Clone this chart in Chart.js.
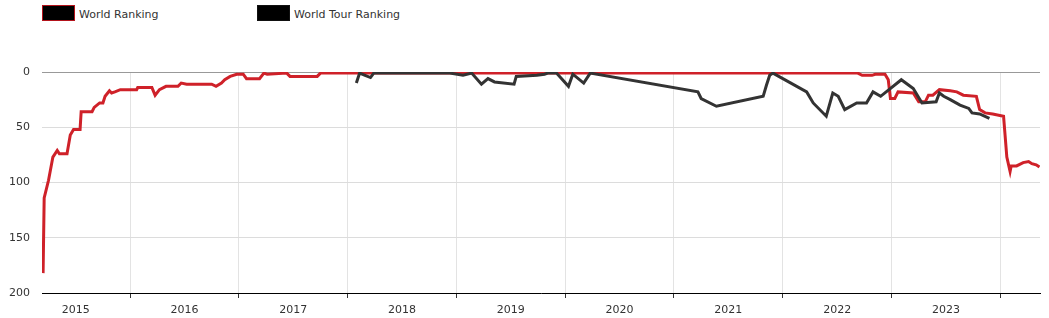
<!DOCTYPE html>
<html>
<head>
<meta charset="utf-8">
<script src="https://cdn.jsdelivr.net/npm/chart.js@4.4.1/dist/chart.umd.min.js"></script>
<style>
  body { margin: 0; background: #fff; font-family: "DejaVu Sans", Verdana, sans-serif; }
  #wrap { position: relative; width: 1049px; height: 318px; }
  #myLine { position: absolute; left: 0; top: 0; }
  .legend-item { position: absolute; top: 5px; height: 17px; font-size: 11px; color: #333; line-height: 17px; }
  .legend-box { position: absolute; left: 0; top: 0; width: 31px; height: 14px; background: #000; }
  .legend-item span { position: absolute; left: 37px; top: 1px; white-space: nowrap; }
</style>
</head>
<body>
<div id="wrap">
  <div class="legend-item" style="left:42px"><div class="legend-box" style="border:1px solid #b3131b"></div><span>World Ranking</span></div>
  <div class="legend-item" style="left:257px"><div class="legend-box" style="border:1px solid #111"></div><span>World Tour Ranking</span></div>
  <canvas id="myLine" width="1049" height="318"></canvas>
</div>
<script>
const Chart = window.Chart;

// dates as decimal years
const rankDates = [2015.20, 2015.21, 2015.25, 2015.29, 2015.33, 2015.35, 2015.42, 2015.45, 2015.48, 2015.54,
  2015.55, 2015.65, 2015.67, 2015.72, 2015.75, 2015.77, 2015.81, 2015.83, 2015.86, 2015.91,
  2016.06, 2016.07, 2016.20, 2016.23, 2016.27, 2016.33, 2016.41, 2016.44, 2016.47, 2016.52,
  2016.75, 2016.79, 2016.84, 2016.87, 2016.92, 2016.98, 2017.04, 2017.07, 2017.19, 2017.23,
  2017.26, 2017.44, 2017.47, 2017.72, 2017.75, 2022.69, 2022.73, 2022.82, 2022.85, 2022.94,
  2022.97, 2022.99, 2023.03, 2023.06, 2023.20, 2023.25, 2023.31, 2023.34, 2023.38, 2023.44,
  2023.54, 2023.60, 2023.66, 2023.78, 2023.81, 2023.86, 2023.93, 2024.03, 2024.06, 2024.09,
  2024.10, 2024.15, 2024.21, 2024.26, 2024.29, 2024.33, 2024.36];
const rankValues = [182, 114, 98, 77, 71, 74, 74, 57, 52, 52,
  36, 36, 32, 28, 28, 22, 17, 19, 18, 16,
  16, 14, 14, 21, 16, 13, 13, 13, 10, 11,
  11, 13, 10, 7, 4, 2, 2, 6, 6, 1,
  2, 1, 4, 4, 1, 1, 3, 3, 2, 2,
  7, 24, 24, 18, 19, 27, 27, 21, 21, 16,
  17, 18, 21, 22, 34, 37, 38, 40, 77, 90,
  85, 85, 82, 81, 83, 84, 86];

const tourDates = [2018.08, 2018.11, 2018.16, 2018.21, 2018.24, 2018.94, 2019.06, 2019.14, 2019.23, 2019.29,
  2019.35, 2019.53, 2019.55, 2019.74, 2019.81, 2019.84, 2019.92, 2020.03, 2020.07, 2020.17,
  2020.23, 2021.22, 2021.25, 2021.39, 2021.82, 2021.85, 2021.88, 2021.91, 2022.22, 2022.28,
  2022.40, 2022.46, 2022.51, 2022.57, 2022.68, 2022.77, 2022.83, 2022.90, 2023.09, 2023.20,
  2023.28, 2023.41, 2023.44, 2023.48, 2023.54, 2023.63, 2023.71, 2023.74, 2023.81, 2023.90];
const tourValues = [10, 1, 3, 5, 1, 1, 3, 1, 11, 6,
  9, 11, 4, 3, 2, 1, 1, 13, 2, 10,
  1, 18, 24, 31, 22, 12, 3, 1, 18, 28,
  40, 19, 22, 34, 28, 28, 18, 22, 7, 15,
  28, 27, 19, 22, 25, 30, 33, 37, 38, 42];

const gridYears = [2016, 2017, 2018, 2019, 2020, 2021, 2022, 2023, 2024];
const yearLabels = ['2015', '2016', '2017', '2018', '2019', '2020', '2021', '2022', '2023'];

function toPoints(dates, values) {
  return dates.map((d, i) => ({ x: d, y: values[i] }));
}

const ctx = document.getElementById('myLine').getContext('2d');
new Chart(ctx, {
  type: 'line',
  data: {
    datasets: [
      {
        label: 'World Ranking',
        data: toPoints(rankDates, rankValues),
        borderColor: '#cf2129',
        borderWidth: 3,
        pointRadius: 0,
        lineTension: 0,
        order: 2
      },
      {
        label: 'World Tour Ranking',
        data: toPoints(tourDates, tourValues),
        borderColor: '#333333',
        borderWidth: 3,
        pointRadius: 0,
        lineTension: 0,
        order: 1
      }
    ]
  },
  options: {
    responsive: false,
    animation: false,
    devicePixelRatio: 1,
    layout: { padding: { top: 72, right: 9, left: 0, bottom: 0 } },
    plugins: { legend: { display: false }, tooltip: { enabled: false } },
    scales: {
      x: {
        type: 'linear',
        min: 2015.19,
        max: 2024.365,
        afterBuildTicks: (scale) => {
          const ticks = gridYears.map(v => ({ value: v }));
          yearLabels.forEach(l => ticks.push({ value: Number(l) + 0.5 }));
          ticks.sort((a, b) => a.value - b.value);
          scale.ticks = ticks;
        },
        afterFit: (scale) => { scale.height = 25; },
        border: { display: true, color: '#000', width: 1 },
        grid: {
          color: (c) => Number.isInteger(c.tick && c.tick.value) ? '#e3e3e3' : 'rgba(0,0,0,0)',
          tickColor: (c) => Number.isInteger(c.tick && c.tick.value) ? '#333' : 'rgba(0,0,0,0)',
          tickLength: 5
        },
        ticks: {
          autoSkip: false,
          maxRotation: 0,
          padding: 6,
          color: '#333',
          font: { family: 'DejaVu Sans', size: 11 },
          callback: (v) => Number.isInteger(v) ? '' : String(Math.floor(v))
        }
      },
      y: {
        reverse: true,
        min: 0,
        max: 200,
        afterFit: (scale) => { scale.width = 42; },
        border: { display: false },
        grid: {
          drawTicks: false,
          color: (c) => (c.tick && c.tick.value === 0) ? '#999' : '#dcdcdc'
        },
        ticks: {
          stepSize: 50,
          padding: 12,
          color: '#333',
          font: { family: 'DejaVu Sans', size: 11 }
        }
      }
    }
  }
});
</script>
</body>
</html>
